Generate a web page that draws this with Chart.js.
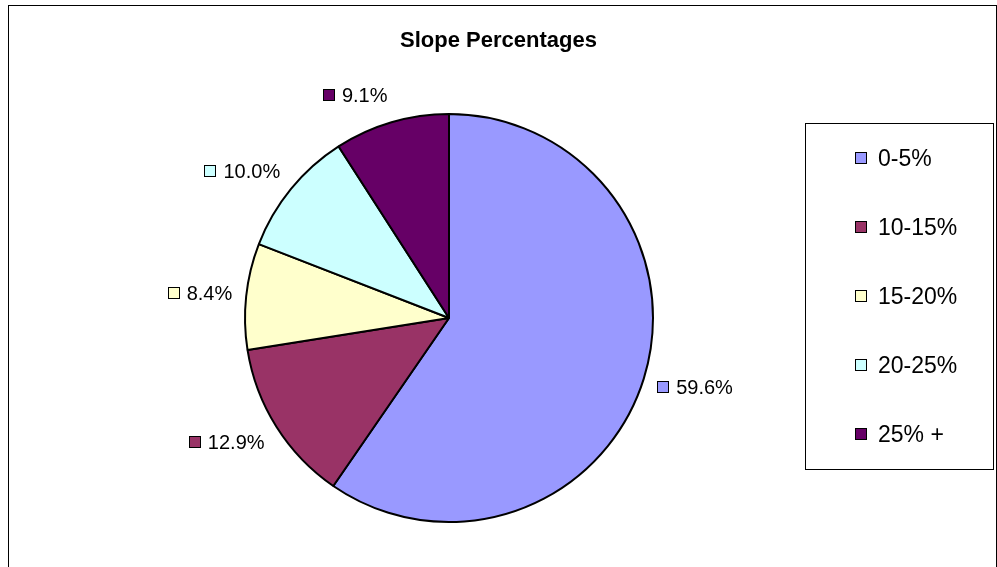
<!DOCTYPE html>
<html>
<head>
<meta charset="utf-8">
<title>Slope Percentages</title>
<script src="https://cdn.jsdelivr.net/npm/chart.js@4.4.1/dist/chart.umd.min.js"></script>
<style>
  html, body { margin: 0; padding: 0; background: #fff; }
  canvas { display: block; }
</style>
</head>
<body>
<canvas id="myChart" width="997" height="567"></canvas>
<script>
// slope classes and their share of the area (%)
const categories = ["0-5%", "10-15%", "15-20%", "20-25%", "25% +"];
const slopeShare = [59.6, 12.9, 8.4, 10.0, 9.1];
const chartTitle = "Slope Percentages";

const sliceColors = ["#9999FF", "#993366", "#FFFFCC", "#CCFFFF", "#660066"];
const FONT = '"Liberation Sans", Arial, sans-serif';

function box(c, x, y, s, fill) {
  c.fillStyle = fill;
  c.fillRect(x, y, s, s);
  c.strokeStyle = "#000";
  c.lineWidth = 1;
  c.strokeRect(x + 0.5, y + 0.5, s - 1, s - 1);
}

// frame, title, outside labels and the boxed legend, excel style
const excelBits = {
  id: "excelBits",
  afterDraw(chart) {
    const c = chart.ctx;
    const meta = chart.getDatasetMeta(0);
    const ds = chart.data.datasets[0];
    c.save();

    // outer chart frame (bottom runs off the picture)
    c.strokeStyle = "#000";
    c.lineWidth = 1;
    c.strokeRect(8.5, 5.5, 988, 600);

    // title
    c.fillStyle = "#000";
    c.font = "bold 22px " + FONT;
    c.textAlign = "center";
    c.textBaseline = "alphabetic";
    c.fillText(chartTitle, chart.width / 2, 47);

    // data labels outside each slice
    c.font = "20px " + FONT;
    c.textAlign = "left";
    meta.data.forEach((arc, i) => {
      const p = arc.getProps(["x", "y", "startAngle", "endAngle", "outerRadius"], true);
      const mid = (p.startAngle + p.endAngle) / 2;
      const ux = Math.cos(mid), uy = Math.sin(mid);
      const ax = p.x + ux * (p.outerRadius + 14);
      const ay = p.y + uy * (p.outerRadius + 28);
      const txt = ds.data[i].toFixed(1) + "%";
      const tw = c.measureText(txt).width;
      const sq = 12, gap = 7;
      const w = sq + gap + tw;
      const left = ux >= 0 ? ax : ax - w;
      box(c, Math.round(left), Math.round(ay - sq / 2), sq, ds.backgroundColor[i]);
      c.fillStyle = "#000";
      c.fillText(txt, left + sq + gap, ay + 7);
    });

    // legend box
    const lx = 805, ly = 123, lh = 346;
    c.strokeStyle = "#000";
    c.lineWidth = 1;
    c.strokeRect(lx + 0.5, ly + 0.5, 188, lh);
    c.font = "23px " + FONT;
    chart.data.labels.forEach((lab, i) => {
      const cy = ly + (i + 0.5) * lh / chart.data.labels.length;
      box(c, 855, Math.round(cy - 6), 12, ds.backgroundColor[i]);
      c.fillStyle = "#000";
      c.fillText(lab, 878, cy + 8);
    });
    c.restore();
  }
};

const ctx = document.getElementById("myChart");

const slopeChart = new Chart(ctx, {
  type: "pie",
  data: {
    labels: categories,
    datasets: [
      {
        label: "Slope",
        data: slopeShare,
        backgroundColor: sliceColors,
        borderColor: "#000",
        borderWidth: 2,
      },
    ],
  },
  options: {
    responsive: false,
    animation: false,
    devicePixelRatio: 1,
    layout: {
      padding: { left: 20, right: 119, top: 113, bottom: 44 },
    },
    plugins: {
      legend: { display: false },
      title: { display: false },
      tooltip: { enabled: false },
    },
  },
  plugins: [excelBits],
});
</script>
</body>
</html>
